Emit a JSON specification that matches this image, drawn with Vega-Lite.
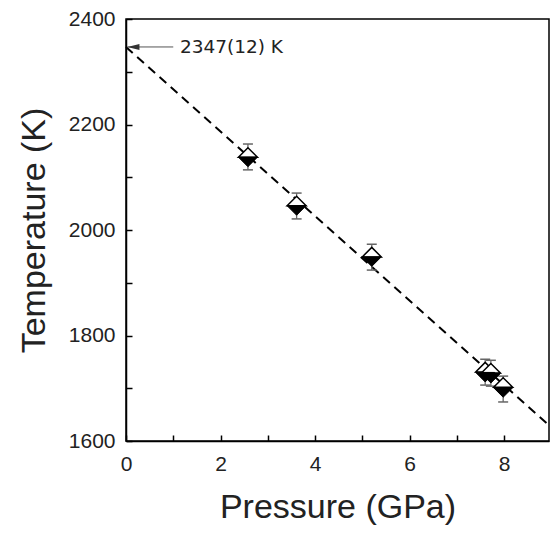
{
  "$schema": "https://vega.github.io/schema/vega-lite/v6.json",
  "width": 423,
  "height": 422,
  "autosize": {"type": "none"},
  "padding": {"left": 126, "top": 19, "right": 4, "bottom": 92},
  "background": "white",
  "config": {
    "view": {"stroke": "black", "strokeWidth": 1.5},
    "axis": {
      "grid": false,
      "domainColor": "black",
      "domainWidth": 1.5,
      "tickColor": "black",
      "tickWidth": 1.5,
      "tickSize": -6,
      "labelFont": "Liberation Sans",
      "labelFontSize": 21,
      "labelColor": "#222",
      "titleFont": "Liberation Sans",
      "titleFontSize": 34,
      "titleFontWeight": "normal",
      "titleColor": "#222",
      "labelOverlap": false
    }
  },
  "datasets": {
    "pts": [
      {"series": "open", "P": 2.58, "T": 2147, "lo": 2131, "hi": 2163},
      {"series": "open", "P": 3.61, "T": 2055, "lo": 2040, "hi": 2070},
      {"series": "open", "P": 5.2, "T": 1958, "lo": 1943, "hi": 1973},
      {"series": "open", "P": 7.6, "T": 1740, "lo": 1725, "hi": 1755},
      {"series": "open", "P": 7.72, "T": 1738, "lo": 1723, "hi": 1753},
      {"series": "open", "P": 7.98, "T": 1711, "lo": 1699, "hi": 1723},
      {"series": "filled", "P": 2.58, "T": 2129, "lo": 2114, "hi": 2144},
      {"series": "filled", "P": 3.61, "T": 2037, "lo": 2021, "hi": 2053},
      {"series": "filled", "P": 5.2, "T": 1940, "lo": 1924, "hi": 1956},
      {"series": "filled", "P": 7.6, "T": 1721, "lo": 1706, "hi": 1736},
      {"series": "filled", "P": 7.72, "T": 1719, "lo": 1704, "hi": 1734},
      {"series": "filled", "P": 7.98, "T": 1692, "lo": 1674, "hi": 1710}
    ],
    "fit": [
      {"P": 0, "T": 2347},
      {"P": 8.95, "T": 1630}
    ],
    "arrow": [
      {"P": 0.03, "T": 2347},
      {"P": 1.0, "T": 2347}
    ],
    "note": [
      {"P": 1.14, "T": 2347, "label": "2347(12) K"}
    ]
  },
  "encoding": {
    "x": {
      "field": "P",
      "type": "quantitative",
      "scale": {"domain": [0, 8.95], "nice": false, "zero": false},
      "axis": {
        "title": "Pressure (GPa)",
        "values": [0, 1, 2, 3, 4, 5, 6, 7, 8],
        "labelExpr": "datum.value % 2 == 0 ? datum.label : ''",
        "labelFlush": false,
        "labelPadding": 18,
        "titlePadding": 16
      }
    },
    "y": {
      "field": "T",
      "type": "quantitative",
      "scale": {"domain": [1600, 2400], "nice": false, "zero": false},
      "axis": {
        "title": "Temperature (K)",
        "format": "d",
        "values": [1600, 1700, 1800, 1900, 2000, 2100, 2200, 2300, 2400],
        "labelExpr": "datum.value % 200 == 0 ? datum.label : ''",
        "labelPadding": 17,
        "titlePadding": 17
      }
    }
  },
  "layer": [
    {
      "data": {"name": "fit"},
      "mark": {"type": "line", "color": "black", "strokeWidth": 2, "strokeDash": [9, 6]}
    },
    {
      "data": {"name": "pts"},
      "mark": {"type": "rule", "color": "#666", "strokeWidth": 1.3},
      "encoding": {"y": {"field": "lo", "type": "quantitative"}, "y2": {"field": "hi"}}
    },
    {
      "data": {"name": "pts"},
      "mark": {"type": "point", "shape": "M-1,0L1,0", "size": 100, "stroke": "#666", "strokeWidth": 1.5, "filled": false, "opacity": 1},
      "encoding": {"y": {"field": "lo", "type": "quantitative"}}
    },
    {
      "data": {"name": "pts"},
      "mark": {"type": "point", "shape": "M-1,0L1,0", "size": 100, "stroke": "#666", "strokeWidth": 1.5, "filled": false, "opacity": 1},
      "encoding": {"y": {"field": "hi", "type": "quantitative"}}
    },
    {
      "data": {"name": "pts"},
      "transform": [{"filter": "datum.series == 'open'"}],
      "mark": {"type": "point", "shape": "M-1,0.5L1,0.5L0,-0.5Z", "size": 361, "fill": "white", "stroke": "black", "strokeWidth": 1.5, "filled": false, "fillOpacity": 1, "opacity": 1}
    },
    {
      "data": {"name": "pts"},
      "transform": [{"filter": "datum.series == 'filled'"}],
      "mark": {"type": "point", "shape": "M-1,-0.5L1,-0.5L0,0.5Z", "size": 361, "fill": "black", "stroke": "black", "strokeWidth": 1, "filled": true, "opacity": 1}
    },
    {
      "data": {"name": "arrow"},
      "mark": {"type": "line", "color": "#555", "strokeWidth": 1}
    },
    {
      "data": {"name": "arrow"},
      "transform": [{"filter": "datum.P < 0.5"}],
      "mark": {"type": "point", "shape": "M0,0L2,-0.5L2,0.5Z", "size": 144, "filled": true, "color": "#333", "opacity": 1}
    },
    {
      "data": {"name": "note"},
      "mark": {"type": "text", "align": "left", "baseline": "middle", "font": "DejaVu Sans", "fontSize": 18.5, "color": "#222"},
      "encoding": {"text": {"field": "label"}}
    }
  ]
}
